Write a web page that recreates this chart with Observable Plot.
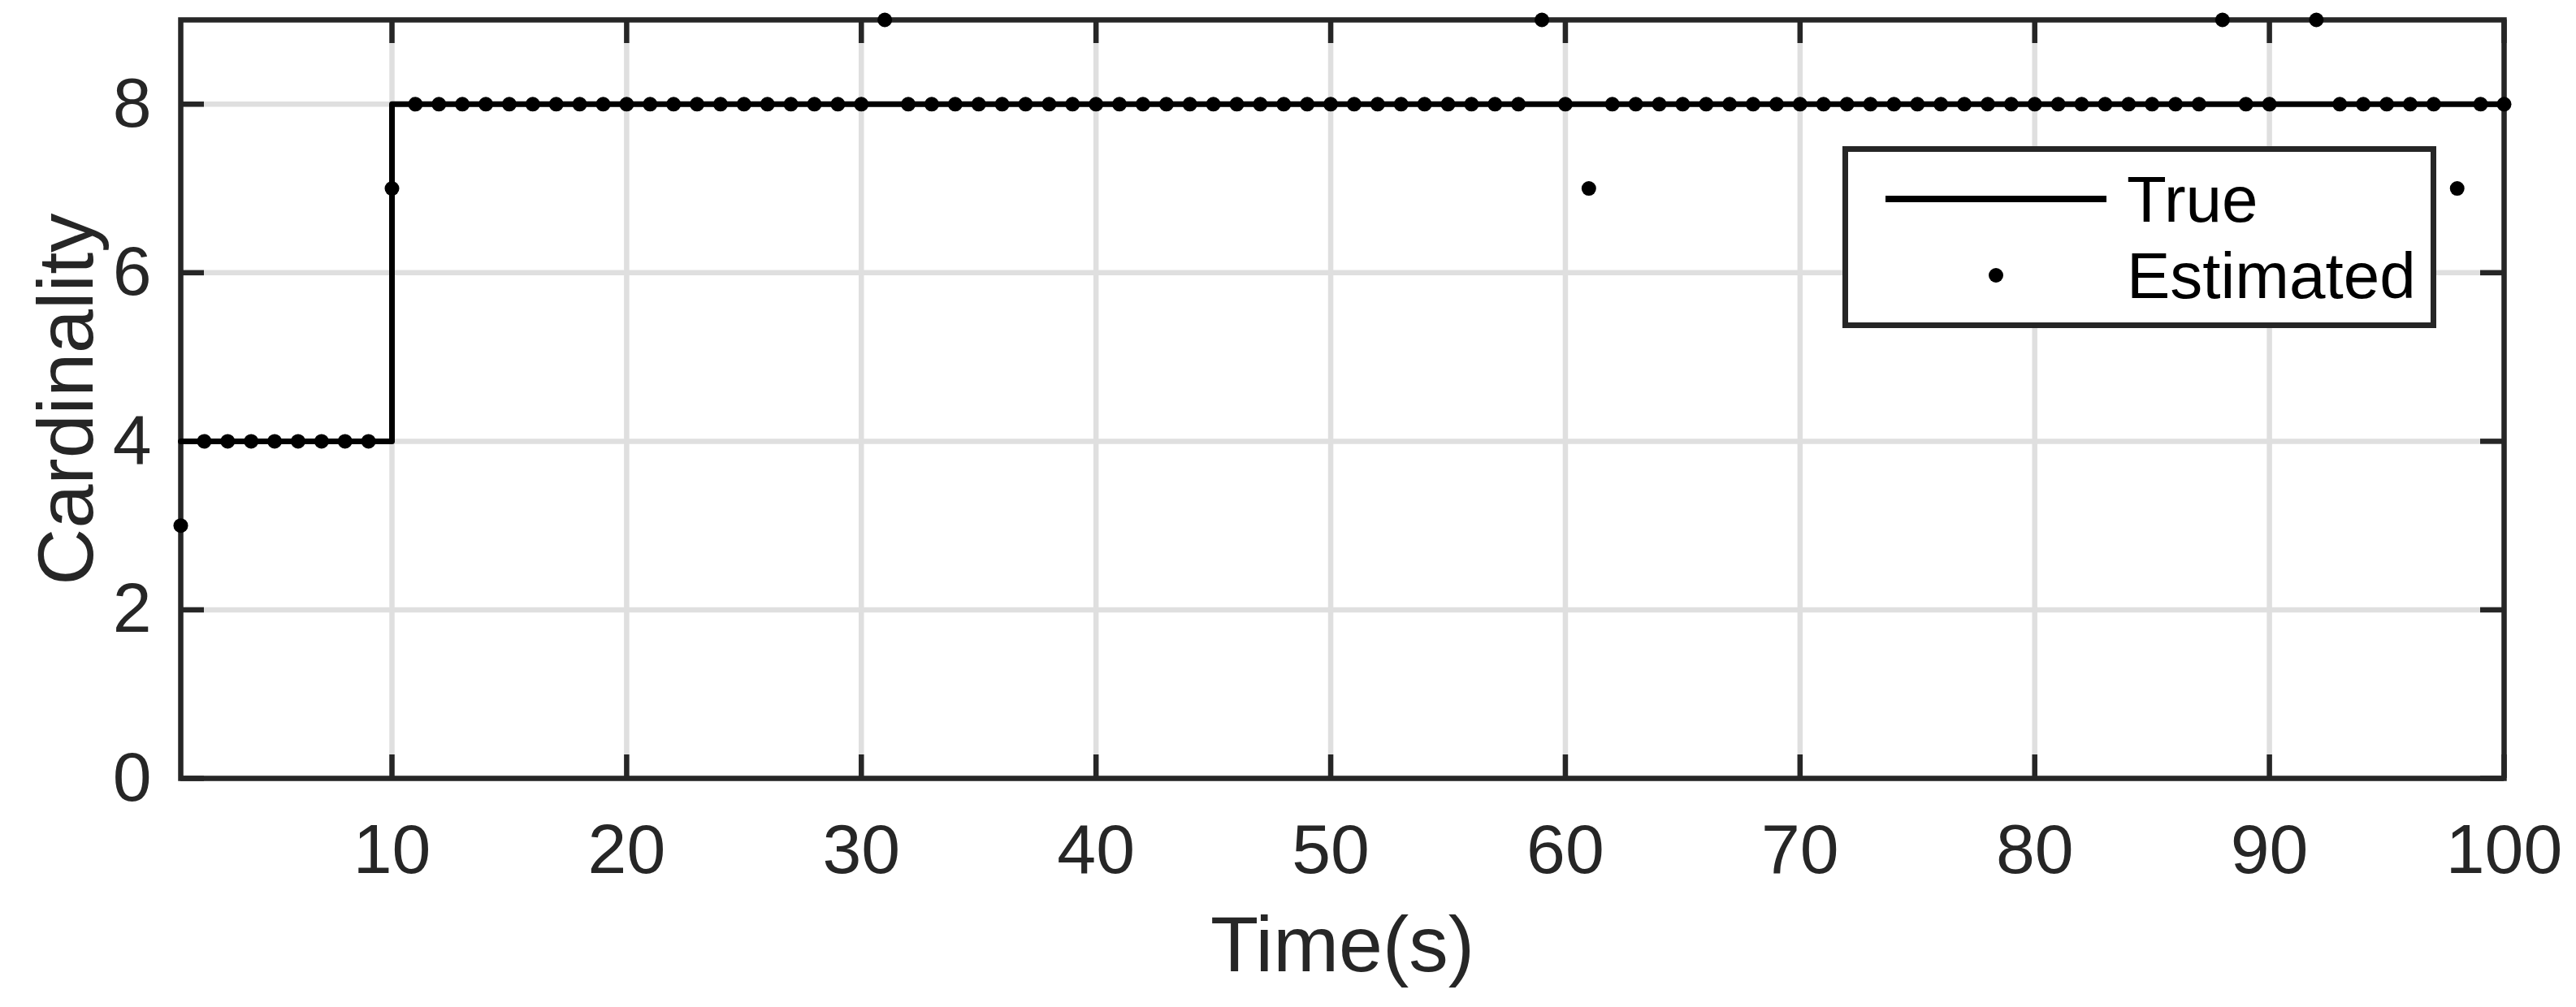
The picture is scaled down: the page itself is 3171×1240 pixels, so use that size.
<!DOCTYPE html>
<html>
<head>
<meta charset="utf-8">
<script src="https://cdn.jsdelivr.net/npm/d3@7"></script>
<script src="https://cdn.jsdelivr.net/npm/@observablehq/plot@0.6"></script>
<style>
html, body { margin: 0; padding: 0; background: #fff; }
#wrap { position: relative; width: 3171px; height: 1240px; overflow: hidden; }
#wrap svg { display: block; }
#legend { position: absolute; left: 2268px; top: 180px; width: 717px; height: 210px;
  border: 7px solid #262626; background: #fff; z-index: 2; }
#legend svg { position: absolute; left: 0; top: 0; overflow: visible; }
#legend text { font-family: "Liberation Sans", Arial, Helvetica, sans-serif; font-size: 80px; fill: #000; }
</style>
</head>
<body>
<div id="wrap"></div>
<script>
// ---- data ----
const time = [1,2,3,4,5,6,7,8,9,10,
  11,12,13,14,15,16,17,18,19,20,
  21,22,23,24,25,26,27,28,29,30,
  31,32,33,34,35,36,37,38,39,40,
  41,42,43,44,45,46,47,48,49,50,
  51,52,53,54,55,56,57,58,59,60,
  61,62,63,64,65,66,67,68,69,70,
  71,72,73,74,75,76,77,78,79,80,
  81,82,83,84,85,86,87,88,89,90,
  91,92,93,94,95,96,97,98,99,100];
const trueCard = [4,4,4,4,4,4,4,4,4,8,
  8,8,8,8,8,8,8,8,8,8,
  8,8,8,8,8,8,8,8,8,8,
  8,8,8,8,8,8,8,8,8,8,
  8,8,8,8,8,8,8,8,8,8,
  8,8,8,8,8,8,8,8,8,8,
  8,8,8,8,8,8,8,8,8,8,
  8,8,8,8,8,8,8,8,8,8,
  8,8,8,8,8,8,8,8,8,8,
  8,8,8,8,8,8,8,8,8,8];
const estCard = [3,4,4,4,4,4,4,4,4,7,
  8,8,8,8,8,8,8,8,8,8,
  8,8,8,8,8,8,8,8,8,8,
  9,8,8,8,8,8,8,8,8,8,
  8,8,8,8,8,8,8,8,8,8,
  8,8,8,8,8,8,8,8,9,8,
  7,8,8,8,8,8,8,8,8,8,
  8,8,8,8,8,8,8,8,8,8,
  8,8,8,8,8,8,8,9,8,8,
  7,9,8,8,8,8,8,7,8,8];
const xTicks = [10,20,30,40,50,60,70,80,90,100];
const yTicks = [0,2,4,6,8];
const xLabel = "Time(s)";
const yLabel = "Cardinality";
const legendLabels = ["True", "Estimated"];

// ---- layout ----
const W = 3171, H = 1240;
const mL = 222, mR = 89, mT = 24, mB = 282;
const plotW = W - mL - mR, plotH = H - mT - mB;
const tickLen = 29;
const axisColor = "#262626";
const lw = 6.5;

const trueData = time.map((t, i) => ({t, v: trueCard[i]}));
const estData = time.map((t, i) => ({t, v: estCard[i]}));

const chart = Plot.plot({
  width: W, height: H,
  marginLeft: mL, marginRight: mR, marginTop: mT, marginBottom: mB,
  style: {fontFamily: '"Liberation Sans", Arial, Helvetica, sans-serif', color: axisColor, background: "#fff", overflow: "visible"},
  x: {domain: [1, 100]},
  y: {domain: [0, 9]},
  marks: [
    Plot.gridX(xTicks, {stroke: "#dfdfdf", strokeOpacity: 1, strokeWidth: lw}),
    Plot.gridY(yTicks, {stroke: "#dfdfdf", strokeOpacity: 1, strokeWidth: lw}),
    // inward ticks on all four sides
    Plot.ruleX(xTicks, {x: d => d, stroke: axisColor, strokeWidth: lw, insetTop: plotH - tickLen}),
    Plot.ruleX(xTicks, {x: d => d, stroke: axisColor, strokeWidth: lw, insetBottom: plotH - tickLen}),
    Plot.ruleY(yTicks, {y: d => d, stroke: axisColor, strokeWidth: lw, insetRight: plotW - tickLen}),
    Plot.ruleY(yTicks, {y: d => d, stroke: axisColor, strokeWidth: lw, insetLeft: plotW - tickLen}),
    Plot.axisX(xTicks, {tickSize: 0, tickPadding: 55, fontSize: 86, label: null, tickFormat: d => String(d)}),
    Plot.axisY(yTicks, {tickSize: 0, tickPadding: 36, fontSize: 86, label: null, tickFormat: d => String(d)}),
    Plot.frame({stroke: axisColor, strokeWidth: lw}),
    Plot.line(trueData, {x: "t", y: "v", curve: "step-after", stroke: "#000", strokeWidth: 7}),
    Plot.dot(estData, {x: "t", y: "v", r: 9, fill: "#000", stroke: "none"}),
    Plot.text([xLabel], {frameAnchor: "bottom", dy: 237, textAnchor: "middle", lineAnchor: "bottom", fontSize: 97, fill: axisColor}),
    Plot.text([yLabel], {frameAnchor: "left", dx: -109, rotate: -90, textAnchor: "middle", lineAnchor: "bottom", fontSize: 97, fill: axisColor})
  ]
});

const wrap = document.getElementById("wrap");
wrap.appendChild(chart);

// legend (drawn over the axes, like the original)
const leg = document.createElement("div");
leg.id = "legend";
leg.innerHTML = `<svg width="717" height="210">
  <line x1="46" x2="318" y1="58" y2="58" stroke="#000" stroke-width="8"/>
  <circle cx="182" cy="152" r="9" fill="#000"/>
  <text x="343" y="86">${legendLabels[0]}</text>
  <text x="343" y="180">${legendLabels[1]}</text>
</svg>`;
wrap.appendChild(leg);
</script>
</body>
</html>
